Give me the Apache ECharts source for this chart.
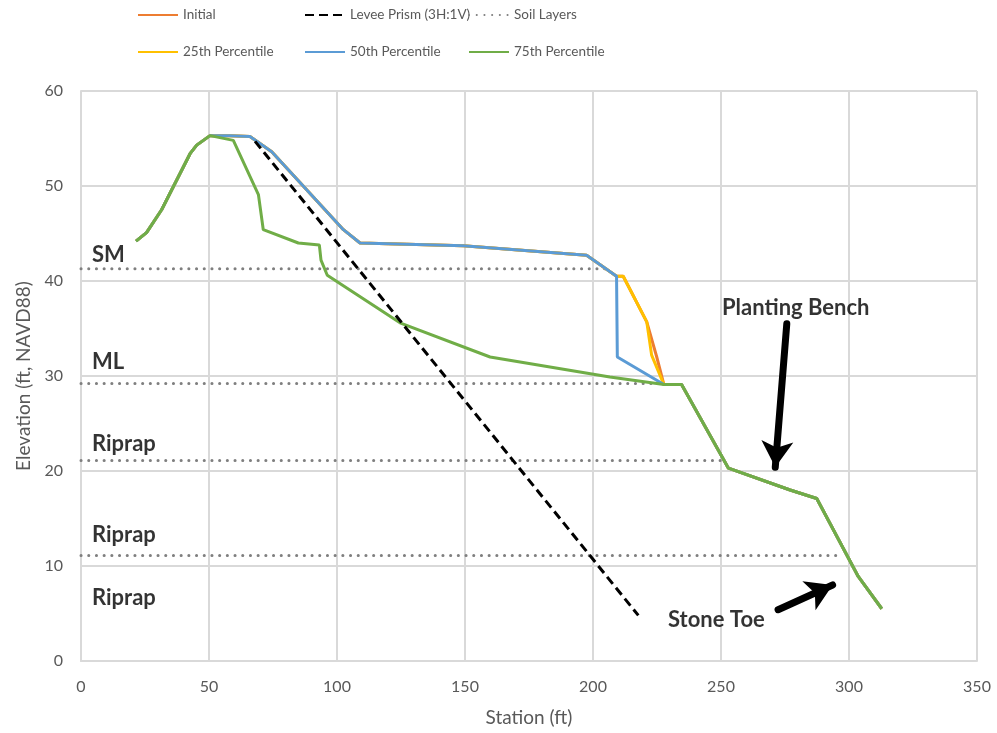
<!DOCTYPE html>
<html>
<head>
<meta charset="utf-8">
<script src="https://cdn.jsdelivr.net/npm/echarts@6/dist/echarts.min.js"></script>
<style>
	html,body{margin:0;padding:0;background:#fff;}
	#main{width:997px;height:733px;}
</style>
</head>
<body>
<div id="main"></div>
<script>
// 断面数据 (station ft, elevation ft)
var landside = [[21.5,44.2],[25.6,45.1],[31.5,47.5],[42.6,53.4],[45.2,54.3],[50.4,55.3]];
var crest = [[58.2,55.3],[66,55.2],[74.5,53.6],[102.5,45.4],[109,44.0],[149.3,43.7],[197.5,42.7],[209.2,40.5]];
var toe = [[227.7,29.1],[234.6,29.1],[252.9,20.3],[277,18.0],[287.4,17.1],[303.6,8.9],[312.8,5.5]];

var initialMid = [[211.8,40.5],[221,35.7],[224.9,32.0]];
var p25Mid = [[211.8,40.5],[221,35.7],[222.9,32.2]];
var p50Mid = [[209.5,32.0]];
var p75 = [[59.5,54.8],[69.3,49.1],[71.2,45.4],[84.9,44.0],[93.1,43.8],[93.75,42.2],[96.2,40.6],[124.6,35.6],[159.8,32.0],[206.6,29.9]];

var leveePrism = [[68,54.7],[217.7,4.8]];

// 土层线
var soilNames = ['SM','ML','Riprap','Riprap','Riprap'];
var soilElev = [41.3,29.2,21.1,11.1];
var soilEnd = [205.5,227,250,297.7];
var soilLabelY = [42.7,31.5,22.9,13.3,6.6];

// 标注
var noteText = ['Planting Bench','Stone Toe'];
var noteXY = [[250.4,37.2],[229.3,4.3]];
var arrowFrom = [[275.7,35.5],[272.3,5.4]];
var arrowTo = [[271.2,20.4],[293.6,8.0]];

var myChart = echarts.init(document.getElementById('main'));
var font = 'Lato, "Open Sans", sans-serif';
var gray = '#595959';

function profile(mid){
	return landside.concat(crest).concat(mid).concat(toe);
}

var series = [];
for (var i = 0; i < soilElev.length; i++) {
	series.push({
		name: 'Soil Layers', type: 'line', symbol: 'none',
		data: [[0, soilElev[i]], [soilEnd[i], soilElev[i]]],
		lineStyle: {color: '#7f7f7f', width: 3, type: [0.1, 7.6], cap: 'round'}
	});
}
series.push({name: 'Initial', type: 'line', symbol: 'none', data: profile(initialMid),
	lineStyle: {color: '#ED7D31', width: 3}, itemStyle: {color: '#ED7D31'}});
series.push({name: '25th Percentile', type: 'line', symbol: 'none', data: profile(p25Mid),
	lineStyle: {color: '#FFC000', width: 3}, itemStyle: {color: '#FFC000'}});
series.push({name: '50th Percentile', type: 'line', symbol: 'none', data: profile(p50Mid),
	lineStyle: {color: '#5B9BD5', width: 3}, itemStyle: {color: '#5B9BD5'}});
series.push({name: '75th Percentile', type: 'line', symbol: 'none',
	data: landside.concat(p75).concat(toe),
	lineStyle: {color: '#70AD47', width: 3}, itemStyle: {color: '#70AD47'}});
series.push({name: 'Levee Prism (3H:1V)', type: 'line', symbol: 'none', data: leveePrism,
	lineStyle: {color: '#000', width: 3, type: [9, 5]}, itemStyle: {color: '#000'}});

// 文字标注
var labelData = [];
for (var i = 0; i < soilNames.length; i++) labelData.push({value: [4.3, soilLabelY[i]], name: soilNames[i]});
for (var i = 0; i < noteText.length; i++) labelData.push({value: noteXY[i], name: noteText[i]});
var arrows = [];
for (var i = 0; i < arrowFrom.length; i++) arrows.push([{coord: arrowFrom[i]}, {coord: arrowTo[i]}]);

series.push({
	name: 'notes', type: 'scatter', symbolSize: 0, silent: true, data: labelData,
	label: {show: true, position: 'right', distance: 0, formatter: '{b}',
		color: '#000', fontFamily: font, fontWeight: 'bold', fontSize: 22},
	markLine: {
		silent: true, symbol: ['none', 'arrow'], symbolSize: [24, 26],
		label: {show: false},
		lineStyle: {color: '#000', width: 7, type: 'solid', cap: 'round'},
		itemStyle: {color: '#000'},
		data: arrows
	}
});

function legendCol(left, names){
	return {
		orient: 'vertical', left: left, top: 3, itemGap: 23, itemWidth: 40, itemHeight: 14,
		data: names, selectedMode: false,
		itemStyle: {opacity: 0},
		textStyle: {color: gray, fontFamily: font, fontSize: 13.5}
	};
}

var option = {
	animation: false,
	backgroundColor: '#fff',
	grid: {left: 81, right: 20, top: 91, bottom: 72},
	legend: [
		legendCol(132, ['Initial', '25th Percentile']),
		legendCol(299, ['Levee Prism (3H:1V)', '50th Percentile']),
		legendCol(463, ['Soil Layers', '75th Percentile'])
	],
	xAxis: {
		type: 'value', min: 0, max: 350, interval: 50,
		name: 'Station (ft)', nameLocation: 'middle', nameGap: 47,
		nameTextStyle: {color: gray, fontFamily: font, fontSize: 19},
		axisLine: {lineStyle: {color: '#d9d9d9', width: 2}},
		axisTick: {show: false},
		axisLabel: {color: gray, fontFamily: font, fontSize: 16, margin: 18},
		splitLine: {lineStyle: {color: '#d9d9d9', width: 2}}
	},
	yAxis: {
		type: 'value', min: 0, max: 60, interval: 10,
		name: 'Elevation (ft, NAVD88)', nameLocation: 'middle', nameGap: 48,
		nameTextStyle: {color: gray, fontFamily: font, fontSize: 19},
		axisLine: {show: true, lineStyle: {color: '#d9d9d9', width: 2}},
		axisTick: {show: false},
		axisLabel: {color: gray, fontFamily: font, fontSize: 16, margin: 18},
		splitLine: {lineStyle: {color: '#d9d9d9', width: 2}}
	},
	series: series
};

myChart.setOption(option);
</script>
</body>
</html>
